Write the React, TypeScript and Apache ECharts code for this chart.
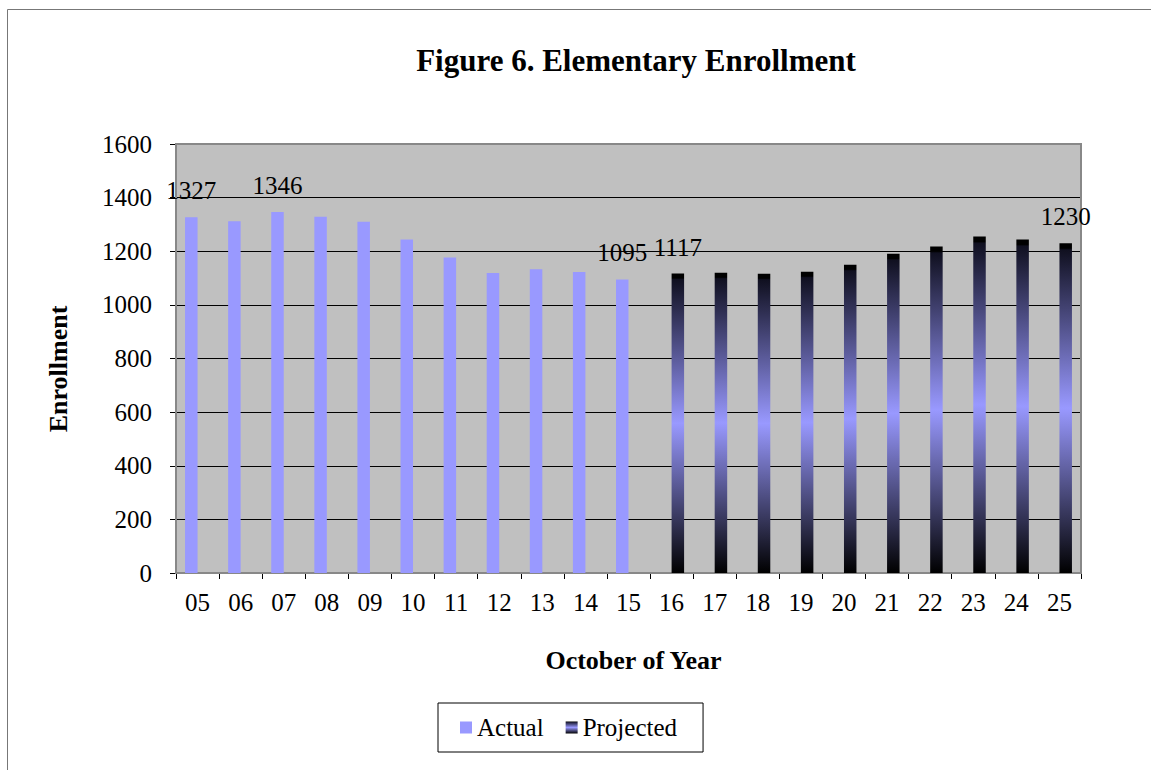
import React, { useEffect, useRef } from "react";
import * as echarts from "echarts";

const categories = ["05","06","07","08","09","10","11","12","13","14","15","16","17","18","19","20","21","22","23","24","25"];
const actual = [1327,1312,1346,1329,1310,1244,1177,1119,1133,1123,1095,null,null,null,null,null,null,null,null,null,null];
const projected = [null,null,null,null,null,null,null,null,null,null,null,1117,1120,1116,1124,1150,1191,1218,1255,1244,1230];
const labeledYears = ["05","07","15","16","25"];
const yTicks = { min: 0, max: 1600, interval: 200 };

const FONT = "'Liberation Serif', 'Times New Roman', serif";

export default function App() {
  const ref = useRef<HTMLDivElement>(null);
  useEffect(() => {
    if (!ref.current) return;
    const chart = echarts.init(ref.current, null, { renderer: "svg" });
    const mk = (arr: (number | null)[]) =>
      arr.map((v, i) => ({
        value: v,
        label: { show: v != null && labeledYears.includes(categories[i]) },
      }));
    const projGrad = new echarts.graphic.LinearGradient(0, 0, 0, 1, [
      { offset: 0, color: "#000000" },
      { offset: 0.015, color: "#000000" },
      { offset: 0.02, color: "#101020" },
      { offset: 0.5, color: "#9999ff" },
      { offset: 1, color: "#000000" },
    ]);
    const labelStyle = {
      position: "top" as const,
      distance: 14,
      fontFamily: FONT,
      fontSize: 25,
      color: "#000",
    };
    chart.setOption({
      animation: false,
      textStyle: { fontFamily: FONT },
      graphic: [
        {
          type: "rect",
          shape: { x: 7.5, y: 9.5, width: 1300, height: 900 },
          style: { fill: "none", stroke: "#777", lineWidth: 1 },
          silent: true,
          z: -10,
        },
        {
          type: "rect",
          shape: { x: 176, y: 144, width: 905, height: 429 },
          style: { fill: "none", stroke: "#888", lineWidth: 2 },
          silent: true,
          z: 1,
        },
        {
          type: "text",
          x: 58,
          y: 369,
          rotation: Math.PI / 2,
          style: {
            text: "Enrollment",
            fontFamily: FONT,
            fontSize: 26,
            fontWeight: "bold",
            fill: "#000",
            align: "center",
            verticalAlign: "middle",
          },
          silent: true,
        },
      ],
      title: {
        text: "Figure 6. Elementary Enrollment",
        left: 631,
        top: 40,
        textAlign: "center",
        textStyle: { fontFamily: FONT, fontSize: 31, fontWeight: "bold", color: "#000" },
      },
      legend: {
        left: 438,
        top: 703,
        padding: [12, 26, 12, 22],
        itemWidth: 12,
        itemHeight: 12,
        itemGap: 22,
        borderColor: "#000",
        borderWidth: 1,
        icon: "rect",
        textStyle: { fontFamily: FONT, fontSize: 25, color: "#000" },
        data: ["Actual", "Projected"],
      },
      grid: { left: 176, right: 70, top: 144, bottom: 197, backgroundColor: "#c0c0c0", show: true, borderWidth: 0 },
      xAxis: {
        type: "category",
        data: categories,
        name: "October of Year",
        nameLocation: "middle",
        nameGap: 74,
        nameTextStyle: { fontFamily: FONT, fontSize: 26, fontWeight: "bold", color: "#000", padding: [0, 0, 0, 10] },
        axisLine: { lineStyle: { color: "#000", width: 1 } },
        axisTick: { show: true, length: 6, lineStyle: { color: "#000" } },
        axisLabel: { fontFamily: FONT, fontSize: 25, color: "#000", margin: 17, interval: 0 },
      },
      yAxis: {
        type: "value",
        min: yTicks.min,
        max: yTicks.max,
        interval: yTicks.interval,
        axisLine: { show: true, lineStyle: { color: "#000", width: 1 } },
        axisTick: { show: true, length: 6, lineStyle: { color: "#000" } },
        axisLabel: { fontFamily: FONT, fontSize: 25, color: "#000", margin: 24, formatter: (v: number) => String(v) },
        splitLine: { show: true, lineStyle: { color: "#000", width: 1 } },
      },
      series: [
        {
          name: "Actual",
          type: "bar",
          data: mk(actual),
          barWidth: 12.5,
          barGap: "0%",
          itemStyle: { color: "#9999ff" },
          label: labelStyle,
        },
        {
          name: "Projected",
          type: "bar",
          data: mk(projected),
          barWidth: 12.5,
          barGap: "0%",
          itemStyle: { color: projGrad },
          label: labelStyle,
        },
      ],
    });
    return () => chart.dispose();
  }, []);
  return (
    <div
      ref={ref}
      style={{ position: "fixed", left: 0, top: 0, width: 1151, height: 770, background: "#fff" }}
    />
  );
}
